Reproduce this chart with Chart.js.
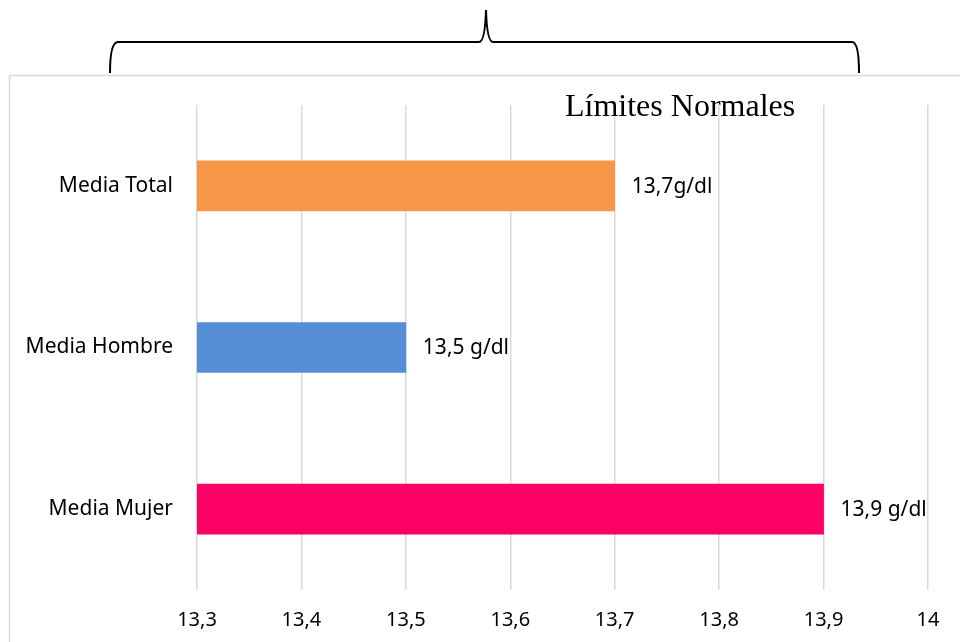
<!DOCTYPE html>
<html>
<head>
<meta charset="utf-8">
<script src="https://cdn.jsdelivr.net/npm/chart.js@4"></script>
<style>
  html, body { margin: 0; padding: 0; background: #fff; }
  #wrap { width: 960px; height: 642px; position: relative; }
</style>
</head>
<body>
<div id="wrap"><canvas id="hbChart"></canvas></div>
<script>
const categories = ['Media Total', 'Media Hombre', 'Media Mujer'];
const values = [13.7, 13.5, 13.9];
const valueLabels = ['13,7g/dl', '13,5 g/dl', '13,9 g/dl'];
const tickMin = 13.3;
const tickMax = 14;
const tickStep = 0.1;
const headerText = 'Límites Normales';

const barColors = ['#F79646', '#558ED5', '#FF0066'];

// frame + brace + header text
const decorations = {
  id: 'decorations',
  beforeDraw(chart) {
    const ctx = chart.ctx;
    ctx.save();
    ctx.strokeStyle = '#d9d9d9';
    ctx.lineWidth = 1.5;
    ctx.strokeRect(9.5, 75.5, 1000, 700);
    ctx.restore();
  },
  afterDraw(chart) {
    const ctx = chart.ctx;
    ctx.save();
    ctx.strokeStyle = '#000';
    ctx.lineWidth = 2;
    ctx.beginPath();
    ctx.moveTo(110, 73);
    ctx.quadraticCurveTo(110, 42, 118, 42);
    ctx.lineTo(479, 42);
    ctx.quadraticCurveTo(485, 42, 486, 10);
    ctx.quadraticCurveTo(487, 42, 493, 42);
    ctx.lineTo(852, 42);
    ctx.quadraticCurveTo(859, 42, 859, 73);
    ctx.stroke();

    ctx.fillStyle = '#000';
    ctx.font = '32px "Liberation Serif", "Times New Roman", serif';
    ctx.textBaseline = 'alphabetic';
    ctx.textAlign = 'left';
    ctx.fillText(headerText, 565, 116);
    ctx.restore();
  }
};

const barLabels = {
  id: 'barLabels',
  afterDatasetsDraw(chart) {
    const ctx = chart.ctx;
    const meta = chart.getDatasetMeta(0);
    ctx.save();
    ctx.fillStyle = '#000';
    ctx.font = '21px "Noto Sans", sans-serif';
    ctx.textBaseline = 'middle';
    ctx.textAlign = 'left';
    meta.data.forEach((bar, i) => {
      ctx.fillText(valueLabels[i], bar.x + 17, bar.y + 1);
    });
    ctx.restore();
  }
};

const ctx = document.getElementById('hbChart').getContext('2d');
new Chart(ctx, {
  type: 'bar',
  data: {
    labels: categories,
    datasets: [{
      data: values,
      backgroundColor: barColors,
      borderWidth: 0,
      barThickness: 50
    }]
  },
  options: {
    indexAxis: 'y',
    responsive: true,
    maintainAspectRatio: false,
    animation: false,
    layout: { padding: { top: 105, right: 32, bottom: 0, left: 0 } },
    plugins: {
      legend: { display: false },
      tooltip: { enabled: false }
    },
    scales: {
      x: {
        min: tickMin,
        max: tickMax,
        ticks: {
          stepSize: tickStep,
          color: '#000',
          padding: 18,
          font: { family: '"Noto Sans", sans-serif', size: 20 },
          callback: (v) => Number(v.toFixed(1)).toString().replace('.', ',')
        },
        grid: { color: '#d9d9d9', lineWidth: 1.5, drawTicks: false },
        border: { display: false },
        afterFit: (scale) => { scale.height = 52; }
      },
      y: {
        ticks: {
          color: '#000',
          padding: 24,
          font: { family: '"Noto Sans", sans-serif', size: 21 }
        },
        grid: { display: false, drawTicks: false },
        border: { display: false },
        afterFit: (scale) => { scale.width = 197; }
      }
    }
  },
  plugins: [decorations, barLabels]
});
</script>
</body>
</html>
